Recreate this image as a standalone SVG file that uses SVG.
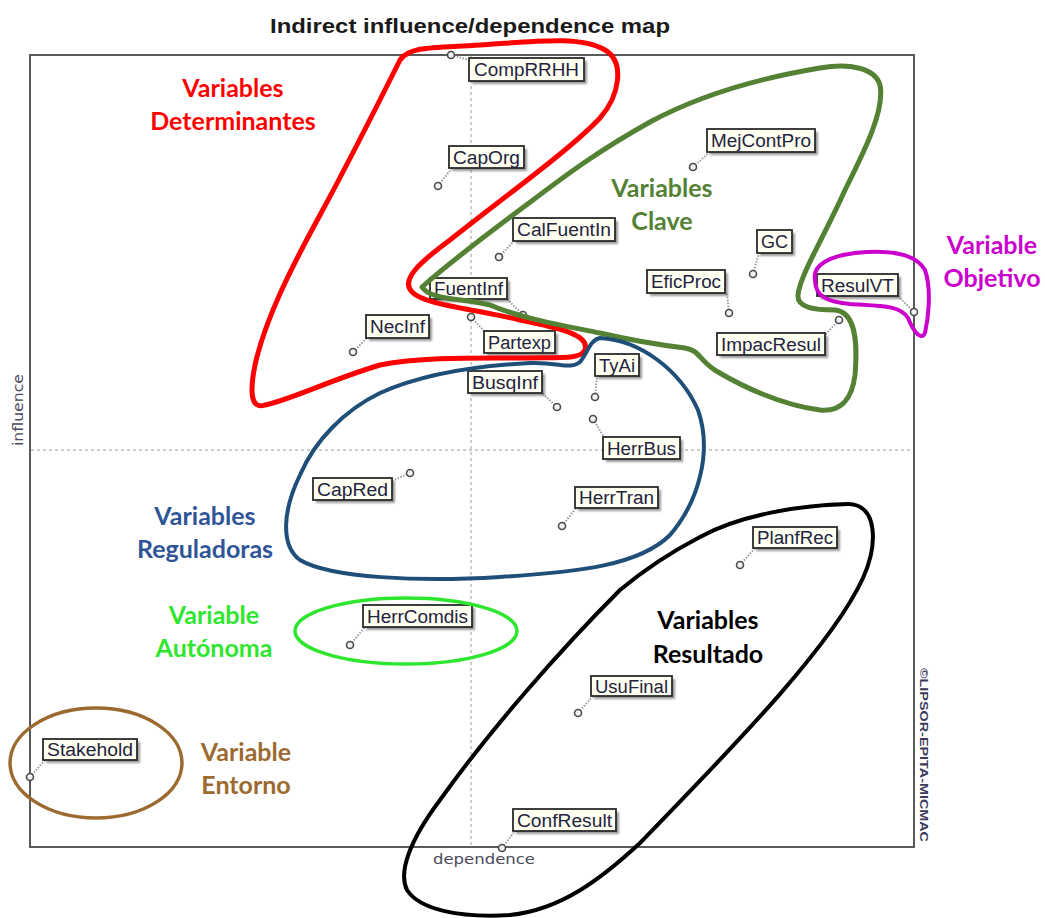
<svg xmlns="http://www.w3.org/2000/svg" width="1045" height="918" viewBox="0 0 1045 918">
  <style>
    .frame { fill: none; stroke: #5a5a5a; stroke-width: 2; }
    .axis { stroke: #9a9a9a; stroke-width: 1; stroke-dasharray: 3 3; fill: none; }
    .shadow { fill: #555555; opacity: 0.6; filter: url(#soft); }
    .box { fill: #fffff2; stroke: #2a2a2a; stroke-width: 1.8; }
    .lbl { font-family: "Liberation Sans", Arial, sans-serif; font-size: 18px; fill: #23233f; }
    .pin { fill: #f2f2f2; stroke: #4a4a4a; stroke-width: 1.6; }
    .leader { stroke: #9a9a9a; stroke-width: 2; stroke-dasharray: 1.5 1.5; fill: none; }
    .zone { fill: none; stroke-linejoin: round; stroke-linecap: round; }
    .cap { font-family: Lato, "Liberation Sans", sans-serif; font-weight: bold; font-size: 25px; text-anchor: middle; }
    .axlbl { font-family: "DejaVu Sans", "Liberation Sans", sans-serif; font-size: 14px; fill: #4a4a5a; }
  </style>
  <defs>
    <filter id="soft" x="-10%" y="-20%" width="120%" height="140%">
      <feGaussianBlur stdDeviation="0.9"/>
    </filter>
  </defs>

  <rect width="1045" height="918" fill="#ffffff"/>

  <!-- title -->
  <text x="470" y="33" font-family="Liberation Sans, Arial, sans-serif" font-weight="bold" font-size="21" text-anchor="middle" fill="#1a1a1a" textLength="400" lengthAdjust="spacingAndGlyphs">Indirect influence/dependence map</text>

  <!-- plot frame and quadrant axes -->
  <g id="plot">
    <line class="axis" x1="471" y1="56" x2="471" y2="846"/>
    <line class="axis" x1="31" y1="450" x2="913" y2="450"/>
    <rect class="frame" x="30" y="55" width="884" height="792"/>
    <text class="axlbl" transform="translate(23,446) rotate(-90)" textLength="72" lengthAdjust="spacingAndGlyphs">influence</text>
    <text class="axlbl" x="433" y="864" font-size="15" textLength="102" lengthAdjust="spacingAndGlyphs">dependence</text>
    <text transform="translate(920,668) rotate(90)" font-family="Liberation Sans, Arial, sans-serif" font-weight="bold" font-size="11" fill="#3a3a5a" textLength="174" lengthAdjust="spacingAndGlyphs">©LIPSOR-EPITA-MICMAC</text>
  </g>

  <!-- leader lines from each point to its label -->
  <g id="leaders">
    <line class="leader" x1="451" y1="55" x2="469" y2="60"/>
    <line class="leader" x1="438" y1="186" x2="452" y2="168"/>
    <line class="leader" x1="693" y1="167" x2="710" y2="152"/>
    <line class="leader" x1="753" y1="274" x2="759" y2="253"/>
    <line class="leader" x1="729" y1="313" x2="727" y2="293"/>
    <line class="leader" x1="914" y1="312" x2="898" y2="296"/>
    <line class="leader" x1="839" y1="320" x2="825" y2="335"/>
    <line class="leader" x1="499" y1="257" x2="514" y2="241"/>
    <line class="leader" x1="523" y1="315" x2="507" y2="299"/>
    <line class="leader" x1="353" y1="352" x2="367" y2="338"/>
    <line class="leader" x1="471" y1="317" x2="484" y2="331"/>
    <line class="leader" x1="557" y1="407" x2="542" y2="393"/>
    <line class="leader" x1="595" y1="397" x2="597" y2="376"/>
    <line class="leader" x1="593" y1="419" x2="604" y2="437"/>
    <line class="leader" x1="410" y1="473" x2="392" y2="481"/>
    <line class="leader" x1="562" y1="526" x2="576" y2="508"/>
    <line class="leader" x1="350" y1="645" x2="365" y2="627"/>
    <line class="leader" x1="740" y1="565" x2="755" y2="548"/>
    <line class="leader" x1="578" y1="713" x2="593" y2="696"/>
    <line class="leader" x1="30" y1="777" x2="45" y2="760"/>
    <line class="leader" x1="502" y1="848" x2="515" y2="831"/>
  </g>

  <!-- variables -->
  <g id="CompRRHH"><rect class="shadow" x="472" y="61" width="115" height="23"/><rect class="box" x="469" y="58" width="115" height="23"/><text class="lbl" x="474" y="76" textLength="105" lengthAdjust="spacingAndGlyphs">CompRRHH</text><circle class="pin" cx="451" cy="55" r="3.5"/></g>
  <g id="CapOrg"><rect class="shadow" x="452" y="149" width="75" height="22"/><rect class="box" x="449" y="146" width="75" height="22"/><text class="lbl" x="453" y="163.5" textLength="67" lengthAdjust="spacingAndGlyphs">CapOrg</text><circle class="pin" cx="438" cy="186" r="3.5"/></g>
  <g id="MejContPro"><rect class="shadow" x="710" y="132" width="108" height="23"/><rect class="box" x="707" y="129" width="108" height="23"/><text class="lbl" x="711" y="147" textLength="100" lengthAdjust="spacingAndGlyphs">MejContPro</text><circle class="pin" cx="693" cy="167" r="3.5"/></g>
  <g id="GC"><rect class="shadow" x="760" y="233" width="35" height="23"/><rect class="box" x="757" y="230" width="35" height="23"/><text class="lbl" x="761" y="248" textLength="27" lengthAdjust="spacingAndGlyphs">GC</text><circle class="pin" cx="753" cy="274" r="3.5"/></g>
  <g id="EficProc"><rect class="shadow" x="650" y="273" width="78" height="23"/><rect class="box" x="647" y="270" width="78" height="23"/><text class="lbl" x="651" y="288" textLength="70" lengthAdjust="spacingAndGlyphs">EficProc</text><circle class="pin" cx="729" cy="313" r="3.5"/></g>
  <g id="ResulVT"><rect class="shadow" x="820" y="277" width="81" height="22"/><rect class="box" x="817" y="274" width="81" height="22"/><text class="lbl" x="821" y="291.5" textLength="73" lengthAdjust="spacingAndGlyphs">ResulVT</text><circle class="pin" cx="914" cy="312" r="3.5"/></g>
  <g id="ImpacResul"><rect class="shadow" x="720" y="336" width="108" height="22"/><rect class="box" x="717" y="333" width="108" height="22"/><text class="lbl" x="721" y="350.5" textLength="100" lengthAdjust="spacingAndGlyphs">ImpacResul</text><circle class="pin" cx="839" cy="320" r="3.5"/></g>
  <g id="CalFuentIn"><rect class="shadow" x="516" y="221" width="102" height="23"/><rect class="box" x="513" y="218" width="102" height="23"/><text class="lbl" x="517" y="236" textLength="94" lengthAdjust="spacingAndGlyphs">CalFuentIn</text><circle class="pin" cx="499" cy="257" r="3.5"/></g>
  <g id="FuentInf"><rect class="shadow" x="433" y="281" width="77" height="21"/><rect class="box" x="430" y="278" width="77" height="21"/><text class="lbl" x="434" y="295" textLength="69" lengthAdjust="spacingAndGlyphs">FuentInf</text><circle class="pin" cx="523" cy="315" r="3.5"/></g>
  <g id="NecInf"><rect class="shadow" x="369" y="318" width="63" height="23"/><rect class="box" x="366" y="315" width="63" height="23"/><text class="lbl" x="370" y="333" textLength="55" lengthAdjust="spacingAndGlyphs">NecInf</text><circle class="pin" cx="353" cy="352" r="3.5"/></g>
  <g id="Partexp"><rect class="shadow" x="487" y="334" width="71" height="22"/><rect class="box" x="484" y="331" width="71" height="22"/><text class="lbl" x="488" y="348.5" textLength="63" lengthAdjust="spacingAndGlyphs">Partexp</text><circle class="pin" cx="471" cy="317" r="3.5"/></g>
  <g id="BusqInf"><rect class="shadow" x="471" y="374" width="74" height="22"/><rect class="box" x="468" y="371" width="74" height="22"/><text class="lbl" x="472" y="388.5" textLength="66" lengthAdjust="spacingAndGlyphs">BusqInf</text><circle class="pin" cx="557" cy="407" r="3.5"/></g>
  <g id="TyAi"><rect class="shadow" x="598" y="357" width="44" height="22"/><rect class="box" x="595" y="354" width="44" height="22"/><text class="lbl" x="599" y="371.5" textLength="36" lengthAdjust="spacingAndGlyphs">TyAi</text><circle class="pin" cx="595" cy="397" r="3.5"/></g>
  <g id="HerrBus"><rect class="shadow" x="606" y="440" width="77" height="22"/><rect class="box" x="603" y="437" width="77" height="22"/><text class="lbl" x="607" y="454.5" textLength="69" lengthAdjust="spacingAndGlyphs">HerrBus</text><circle class="pin" cx="593" cy="419" r="3.5"/></g>
  <g id="CapRed"><rect class="shadow" x="316" y="481" width="79" height="22"/><rect class="box" x="313" y="478" width="79" height="22"/><text class="lbl" x="317" y="495.5" textLength="71" lengthAdjust="spacingAndGlyphs">CapRed</text><circle class="pin" cx="410" cy="473" r="3.5"/></g>
  <g id="HerrTran"><rect class="shadow" x="578" y="490" width="83" height="21"/><rect class="box" x="575" y="487" width="83" height="21"/><text class="lbl" x="579" y="504" textLength="75" lengthAdjust="spacingAndGlyphs">HerrTran</text><circle class="pin" cx="562" cy="526" r="3.5"/></g>
  <g id="HerrComdis"><rect class="shadow" x="366" y="608" width="109" height="22"/><rect class="box" x="363" y="605" width="109" height="22"/><text class="lbl" x="367" y="622.5" textLength="101" lengthAdjust="spacingAndGlyphs">HerrComdis</text><circle class="pin" cx="350" cy="645" r="3.5"/></g>
  <g id="PlanfRec"><rect class="shadow" x="756" y="530" width="84" height="21"/><rect class="box" x="753" y="527" width="84" height="21"/><text class="lbl" x="757" y="544" textLength="76" lengthAdjust="spacingAndGlyphs">PlanfRec</text><circle class="pin" cx="740" cy="565" r="3.5"/></g>
  <g id="UsuFinal"><rect class="shadow" x="594" y="679" width="81" height="20"/><rect class="box" x="591" y="676" width="81" height="20"/><text class="lbl" x="595" y="692.5" textLength="73" lengthAdjust="spacingAndGlyphs">UsuFinal</text><circle class="pin" cx="578" cy="713" r="3.5"/></g>
  <g id="Stakehold"><rect class="shadow" x="46" y="742" width="94" height="21"/><rect class="box" x="43" y="739" width="94" height="21"/><text class="lbl" x="47" y="756" textLength="86" lengthAdjust="spacingAndGlyphs">Stakehold</text><circle class="pin" cx="30" cy="777" r="3.5"/></g>
  <g id="ConfResult"><rect class="shadow" x="516" y="812" width="103" height="22"/><rect class="box" x="513" y="809" width="103" height="22"/><text class="lbl" x="517" y="826.5" textLength="95" lengthAdjust="spacingAndGlyphs">ConfResult</text><circle class="pin" cx="502" cy="848" r="3.5"/></g>

  <!-- hand-drawn groupings -->
  <g id="zone-determinantes">
    <path class="zone" stroke="#ff0000" stroke-width="5" d="M 400,60 C 410,45 440,48 480,45 C 530,42 580,35 605,50 C 625,62 620,95 600,118 C 570,150 500,200 450,240 C 420,262 400,280 412,292 C 425,305 470,308 520,320 C 560,328 590,335 585,350 C 580,360 560,357 520,358 C 470,358 420,357 380,365 C 330,380 290,400 265,405 C 250,410 250,390 255,365 C 265,320 290,270 320,215 C 350,160 380,100 400,60 Z"/>
    <text class="cap" fill="#ff0000" x="233" y="97">Variables</text>
    <text class="cap" fill="#ff0000" x="233" y="130">Determinantes</text>
  </g>
  <g id="zone-clave">
    <path class="zone" stroke="#548235" stroke-width="5" d="M 422,287 C 450,262 490,232 533,200 C 570,172 600,150 650,122 C 700,95 760,78 820,68 C 850,63 875,68 880,85 C 885,110 865,150 845,190 C 825,235 800,275 798,295 C 797,308 815,310 835,310 C 855,312 858,340 855,375 C 852,400 840,412 820,410 C 780,405 740,385 718,372 C 700,362 700,350 685,348 C 660,345 630,340 600,333 C 560,325 520,318 490,305 C 460,298 430,300 422,287 Z"/>
    <text class="cap" fill="#548235" x="662" y="197">Variables</text>
    <text class="cap" fill="#548235" x="662" y="230">Clave</text>
  </g>
  <g id="zone-objetivo">
    <path class="zone" stroke="#cc00cc" stroke-width="4" d="M 815,280 C 812,265 830,256 855,253 C 885,250 915,252 925,270 C 932,290 928,320 925,333 C 922,340 915,335 908,318 C 900,305 880,306 850,304 C 830,302 815,298 815,280 Z"/>
    <text class="cap" fill="#cc00cc" x="992" y="254">Variable</text>
    <text class="cap" fill="#cc00cc" x="992" y="287">Objetivo</text>
  </g>
  <g id="zone-reguladoras">
    <path class="zone" stroke="#1f4e79" stroke-width="4" d="M 600,338 C 640,340 680,370 698,410 C 712,450 700,500 670,535 C 640,565 580,572 500,577 C 420,582 330,578 300,560 C 280,545 283,510 300,475 C 315,440 345,410 380,393 C 420,375 470,366 530,363 C 560,362 570,370 580,362 C 588,352 590,340 600,338 Z"/>
    <text class="cap" fill="#2f5597" x="205" y="525">Variables</text>
    <text class="cap" fill="#2f5597" x="205" y="558">Reguladoras</text>
  </g>
  <g id="zone-autonoma">
    <ellipse class="zone" stroke="#2ee62e" stroke-width="3.5" cx="406" cy="631" rx="111" ry="33"/>
    <text class="cap" fill="#2ee62e" x="214" y="624">Variable</text>
    <text class="cap" fill="#2ee62e" x="214" y="657">Autónoma</text>
  </g>
  <g id="zone-resultado">
    <path class="zone" stroke="#000000" stroke-width="4" d="M 700,537 C 740,515 800,505 848,504 C 878,504 878,545 863,578 C 830,650 720,760 640,843 C 600,880 560,910 510,915 C 460,918 420,910 407,890 C 398,872 410,840 440,800 C 490,730 560,650 620,590 C 650,565 675,550 700,537 Z"/>
    <text class="cap" fill="#000000" x="708" y="629">Variables</text>
    <text class="cap" fill="#000000" x="708" y="663">Resultado</text>
  </g>
  <g id="zone-entorno">
    <ellipse class="zone" stroke="#9c6a30" stroke-width="3.5" cx="96" cy="763" rx="86" ry="55"/>
    <text class="cap" fill="#9c6a30" x="246" y="761">Variable</text>
    <text class="cap" fill="#9c6a30" x="246" y="794">Entorno</text>
  </g>
</svg>
